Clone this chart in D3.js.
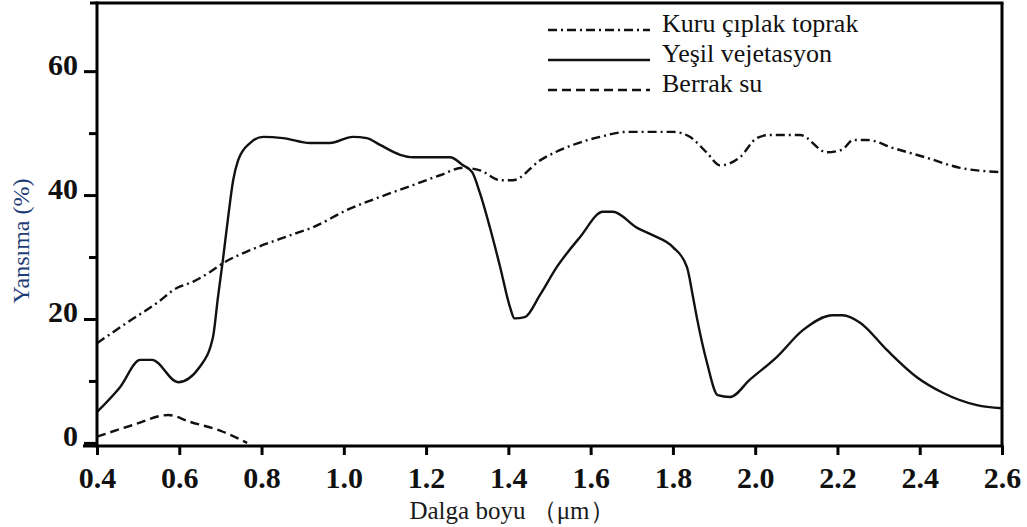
<!DOCTYPE html>
<html>
<head>
<meta charset="utf-8">
<script src="https://cdn.jsdelivr.net/npm/d3@7"></script>
<style>
  html, body { margin: 0; padding: 0; background: #fff; }
  svg { display: block; }
</style>
</head>
<body>
<script>
// ---- data ----
const seriesNames = ["Kuru çıplak toprak", "Yeşil vejetasyon", "Berrak su"];

const soilWavelength = [0.4, 0.473, 0.546, 0.594, 0.633, 0.675, 0.706, 0.772, 0.869, 0.925, 1.008, 1.088, 1.168, 1.234, 1.29, 1.331, 1.38, 1.411, 1.477, 1.557, 1.623, 1.688, 1.8, 1.841, 1.883, 1.914, 1.963, 2.004, 2.036, 2.109, 2.174, 2.211, 2.238, 2.272, 2.335, 2.418, 2.498, 2.6];
const soilReflectance = [16.1, 19.4, 22.6, 25.0, 26.0, 27.6, 29.0, 31.1, 33.5, 34.8, 37.6, 39.7, 41.6, 43.2, 44.4, 44.0, 42.4, 42.4, 45.6, 48.1, 49.4, 50.2, 50.2, 49.4, 46.8, 44.8, 46.1, 49.2, 49.7, 49.7, 46.9, 47.3, 48.9, 48.9, 47.6, 46.0, 44.4, 43.7];

const vegWavelength = [0.4, 0.456, 0.505, 0.534, 0.597, 0.65, 0.682, 0.694, 0.706, 0.718, 0.731, 0.743, 0.772, 0.804, 0.852, 0.918, 0.966, 1.022, 1.056, 1.088, 1.137, 1.168, 1.258, 1.29, 1.312, 1.331, 1.355, 1.38, 1.404, 1.415, 1.44, 1.477, 1.518, 1.574, 1.63, 1.654, 1.713, 1.752, 1.8, 1.834, 1.849, 1.858, 1.883, 1.909, 1.939, 1.987, 2.053, 2.116, 2.189, 2.213, 2.255, 2.32, 2.393, 2.456, 2.539, 2.6];
const vegReflectance = [5.0, 9.0, 13.4, 13.4, 9.8, 12.3, 17.1, 23.5, 29.5, 36.0, 42.4, 45.6, 48.4, 49.4, 49.2, 48.4, 48.4, 49.4, 49.2, 48.1, 46.5, 46.1, 46.1, 44.8, 43.7, 40.3, 34.8, 28.4, 21.9, 20.1, 20.3, 23.9, 28.4, 33.2, 37.3, 37.3, 34.7, 33.5, 31.6, 28.4, 23.5, 20.3, 12.9, 7.7, 7.4, 10.2, 13.9, 18.2, 20.6, 20.6, 19.4, 15.0, 10.6, 8.1, 6.1, 5.6];

const waterWavelength = [0.4, 0.488, 0.573, 0.626, 0.706, 0.765];
const waterReflectance = [1.0, 2.9, 4.5, 3.4, 1.8, 0.0];

const xTickValues = [0.4, 0.6, 0.8, 1.0, 1.2, 1.4, 1.6, 1.8, 2.0, 2.2, 2.4, 2.6];
const yMajorTicks = [0, 20, 40, 60];
const yMinorTicks = [10, 30, 50];

const xLabel = "Dalga boyu  （μm）";
const yLabel = "Yansıma (%)";

// ---- layout ----
const W = 1027, H = 527;
const pLeft = 97, pRight = 1002, pTop = 3, pBottom = 446;
const serif = "'Liberation Serif', 'Times New Roman', serif";

const x = d3.scaleLinear().domain([0.4, 2.6]).range([pLeft, pRight]);
const y = d3.scaleLinear().domain([-0.5, 71]).range([pBottom, pTop]);

const svg = d3.select("body").append("svg").attr("width", W).attr("height", H);
svg.append("rect").attr("width", W).attr("height", H).attr("fill", "#fff");

const line = d3.line().x(d => x(d[0])).y(d => y(d[1])).curve(d3.curveMonotoneX);
const zip = (a, b) => a.map((v, i) => [v, b[i]]);

const styles = [
  { dash: "9,4,2,4" },
  { dash: null },
  { dash: "9,5" }
];
const data = [
  zip(soilWavelength, soilReflectance),
  zip(vegWavelength, vegReflectance),
  zip(waterWavelength, waterReflectance)
];

data.forEach((d, i) => {
  svg.append("path").datum(d)
    .attr("d", line)
    .attr("fill", "none")
    .attr("stroke", "#111")
    .attr("stroke-width", 2.4)
    .attr("stroke-dasharray", styles[i].dash);
});

// ---- frame / axes ----
const frame = svg.append("g").attr("stroke", "#000").attr("stroke-width", 3).attr("fill", "none");
frame.append("line").attr("x1", 90).attr("x2", pRight + 1.5).attr("y1", pTop).attr("y2", pTop);
frame.append("line").attr("x1", pRight).attr("x2", pRight).attr("y1", pTop).attr("y2", pBottom);

// x axis
const xAxis = svg.append("g").attr("transform", `translate(0,${pBottom})`)
  .call(d3.axisBottom(x).tickValues(xTickValues).tickSize(9).tickPadding(12).tickFormat(d3.format(".1f")));
xAxis.select(".domain").attr("stroke", "#000").attr("stroke-width", 3)
  .attr("d", `M${pLeft - 14},0H${pRight + 1.5}`);
xAxis.selectAll(".tick line").attr("stroke", "#000").attr("stroke-width", 3);
xAxis.selectAll(".tick text")
  .attr("fill", "#111")
  .style("font-family", serif)
  .style("font-weight", "bold")
  .style("font-size", "30px");

// y axis
const yAxis = svg.append("g").attr("transform", `translate(${pLeft},0)`)
  .call(d3.axisLeft(y).tickValues(yMajorTicks).tickSize(13).tickPadding(6).tickFormat(d3.format("d")));
yAxis.select(".domain").attr("stroke", "#000").attr("stroke-width", 3)
  .attr("d", `M0,${pTop - 1.5}V${pBottom + 1.5}`);
yAxis.selectAll(".tick line").attr("stroke", "#000").attr("stroke-width", 3);
yAxis.selectAll(".tick text")
  .attr("fill", "#111")
  .attr("dy", "0.1em")
  .style("font-family", serif)
  .style("font-weight", "bold")
  .style("font-size", "30px");

const yMinor = svg.append("g").attr("transform", `translate(${pLeft},0)`)
  .call(d3.axisLeft(y).tickValues(yMinorTicks).tickSize(8).tickFormat(""));
yMinor.select(".domain").remove();
yMinor.selectAll(".tick line").attr("stroke", "#000").attr("stroke-width", 3);

// axis titles
svg.append("text")
  .attr("x", 512).attr("y", 519)
  .attr("text-anchor", "middle")
  .attr("fill", "#1a1a1a")
  .style("font-family", serif)
  .style("font-size", "25px")
  .text(xLabel);

svg.append("text")
  .attr("transform", `translate(29,241) rotate(-90)`)
  .attr("text-anchor", "middle")
  .attr("fill", "#1e3c78")
  .style("font-family", serif)
  .style("font-size", "24px")
  .text(yLabel);

// ---- legend ----
const legendY = [30, 60, 90];
const legend = svg.append("g");
seriesNames.forEach((name, i) => {
  legend.append("line")
    .attr("x1", 548).attr("x2", 650)
    .attr("y1", legendY[i]).attr("y2", legendY[i])
    .attr("stroke", "#111").attr("stroke-width", 2.4)
    .attr("stroke-dasharray", styles[i].dash);
  legend.append("text")
    .attr("x", 662).attr("y", legendY[i] + 2)
    .attr("fill", "#111")
    .style("font-family", serif)
    .style("font-size", "26px")
    .text(name);
});
</script>
</body>
</html>
